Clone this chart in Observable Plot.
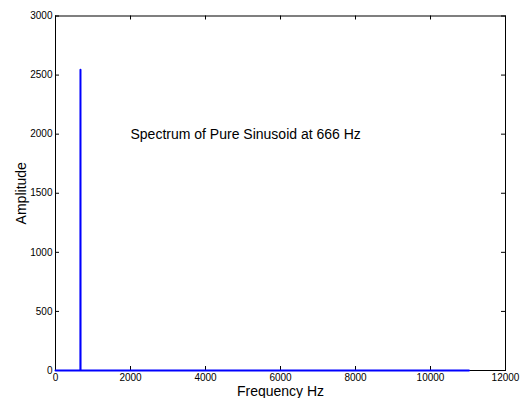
<!DOCTYPE html>
<html><head><meta charset="utf-8">
<script src="https://cdn.jsdelivr.net/npm/d3@7"></script>
<script src="https://cdn.jsdelivr.net/npm/@observablehq/plot@0.6"></script>
<style>body{margin:0;background:#fff}svg{font-family:"Liberation Sans",Arial,sans-serif}</style>
</head><body><div id="chart"></div>
<script>
const freq = [0, 664, 666, 668, 11025];
const amp = [0, 0, 2546, 0, 0];
const xTicks = [0, 2000, 4000, 6000, 8000, 10000, 12000];
const yTicks = [0, 500, 1000, 1500, 2000, 2500, 3000];
const annotation = [{x: 2000, y: 2000, text: "Spectrum of Pure Sinusoid at 666 Hz"}];
const data = freq.map((f, i) => ({f, a: amp[i]}));

const W = 521, H = 398, mt = 15.5, mb = 28, ml = 55, mr = 16;
const fh = H - mt - mb, fw = W - ml - mr, tl = 4;
const chart = Plot.plot({
  width: W, height: H,
  marginTop: mt, marginBottom: mb, marginLeft: ml, marginRight: mr,
  style: {fontSize: "10px", fontFamily: "Liberation Sans, Arial, sans-serif", color: "#000"},
  x: {domain: [0, 12000]},
  y: {domain: [0, 3000]},
  marks: [
    Plot.axisX({ticks: xTicks, tickSize: 0, tickPadding: 3, tickFormat: d => String(d), label: "Frequency Hz", labelAnchor: "center", labelArrow: "none", labelOffset: 25, fontSize: 10}),
    Plot.axisY({ticks: yTicks, tickSize: 0, tickPadding: 3, tickFormat: d => String(d), label: "Amplitude", labelAnchor: "center", labelArrow: "none", labelOffset: 39, fontSize: 10}),
    Plot.tickX(xTicks, {x: d => d, stroke: "#000", insetTop: fh - tl}),
    Plot.tickX(xTicks, {x: d => d, stroke: "#000", insetBottom: fh - tl}),
    Plot.tickY(yTicks, {y: d => d, stroke: "#000", insetRight: fw - tl}),
    Plot.tickY(yTicks, {y: d => d, stroke: "#000", insetLeft: fw - tl}),
    Plot.frame({stroke: "#000", strokeWidth: 1}),
    Plot.line(data, {x: "f", y: "a", stroke: "#0000ff", strokeWidth: 2}),
    Plot.text(annotation, {x: "x", y: "y", text: "text", textAnchor: "start", fontSize: 14, fill: "#000"})
  ]
});
document.getElementById("chart").appendChild(chart);
chart.querySelectorAll('[aria-label="x-axis label"] text, [aria-label="y-axis label"] text').forEach(t => t.setAttribute("font-size", "14"));
</script></body></html>
